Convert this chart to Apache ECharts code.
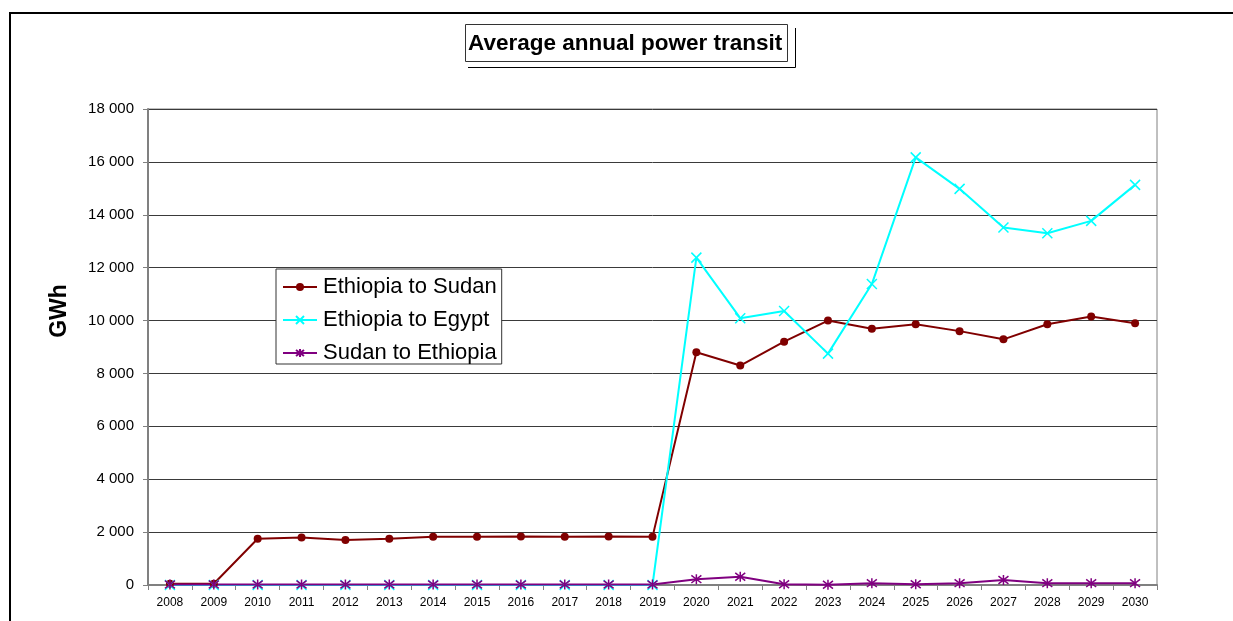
<!DOCTYPE html>
<html>
<head>
<meta charset="utf-8">
<script src="https://cdn.jsdelivr.net/npm/echarts@6/dist/echarts.min.js"></script>
<style>
  html, body { margin: 0; padding: 0; background: #fff; }
  #main { width: 1233px; height: 621px; }
</style>
</head>
<body>
<div id="main"></div>
<script>
var years = ['2008', '2009', '2010', '2011', '2012', '2013', '2014', '2015', '2016', '2017', '2018', '2019',
             '2020', '2021', '2022', '2023', '2024', '2025', '2026', '2027', '2028', '2029', '2030'];

// GWh
var ethiopiaToSudan = [50, 50, 1750, 1800, 1700, 1750, 1820, 1820, 1830, 1820, 1830, 1820,
                       8800, 8300, 9200, 10000, 9690, 9860, 9600, 9290, 9860, 10150, 9900];
var ethiopiaToEgypt = [0, 0, 0, 0, 0, 0, 0, 0, 0, 0, 0, 0,
                       12380, 10090, 10360, 8750, 11380, 16170, 14980, 13520, 13300, 13770, 15130];
var sudanToEthiopia = [20, 20, 20, 20, 20, 20, 20, 20, 20, 20, 20, 20,
                       220, 310, 30, 10, 70, 30, 70, 190, 70, 70, 70];

var chartDom = document.getElementById('main');
var myChart = echarts.init(chartDom);
var option;

var crossPath = 'path://M0,0 L10,10 M10,0 L0,10';
var starPath = 'path://M0,0 L10,10 M10,0 L0,10 M5,-1.5 L5,11.5';
var font = 'Liberation Sans, Arial, sans-serif';

option = {
    animation: false,
    backgroundColor: '#fff',
    textStyle: { fontFamily: font },
    title: {
        text: 'Average annual power transit',
        left: 465,
        top: 24,
        padding: [8, 5, 7, 3],
        borderColor: '#333',
        borderWidth: 1,
        backgroundColor: '#fff',
        textStyle: {
            fontFamily: font,
            fontSize: 22.5,
            fontWeight: 'bold',
            color: '#000'
        }
    },
    graphic: [
        {
            type: 'rect',
            z: -10,
            shape: { x: 10, y: 13, width: 1300, height: 700 },
            style: { fill: null, stroke: '#000', lineWidth: 2 }
        },
        {
            type: 'polyline',
            z: -5,
            shape: { points: [[468, 67.5], [795.5, 67.5], [795.5, 28]] },
            style: { fill: null, stroke: '#000', lineWidth: 1 }
        }
    ],
    legend: {
        orient: 'vertical',
        left: 276,
        top: 269,
        padding: [7, 5, 0, 6],
        itemGap: 11,
        itemWidth: 34,
        itemHeight: 10,
        borderColor: '#333',
        borderWidth: 1,
        backgroundColor: '#fff',
        textStyle: {
            fontFamily: font,
            fontSize: 22,
            color: '#000',
            padding: [0, 0, 0, 1]
        },
        data: ['Ethiopia to Sudan', 'Ethiopia to Egypt', 'Sudan to Ethiopia']
    },
    grid: {
        left: 148,
        right: 76,
        top: 109,
        bottom: 36,
        show: true,
        borderColor: '#808080',
        borderWidth: 1
    },
    xAxis: {
        type: 'category',
        data: years,
        boundaryGap: true,
        axisLine: { lineStyle: { color: '#808080', width: 2 } },
        axisTick: { show: true, length: 5, interval: 0, lineStyle: { color: '#808080' } },
        axisLabel: {
            interval: 0,
            margin: 12,
            fontSize: 12,
            color: '#000',
            fontFamily: font
        }
    },
    yAxis: {
        type: 'value',
        min: 0,
        max: 18000,
        interval: 2000,
        name: 'GWh',
        nameLocation: 'middle',
        nameGap: 77,
        nameTextStyle: {
            fontFamily: font,
            fontSize: 23,
            fontWeight: 'bold',
            color: '#000',
            padding: [0, 0, 0, 72]
        },
        axisLine: { show: true, lineStyle: { color: '#808080', width: 2 } },
        axisTick: { show: true, length: 5, lineStyle: { color: '#808080' } },
        axisLabel: {
            margin: 14,
            fontSize: 15,
            color: '#000',
            fontFamily: font,
            formatter: function (v) {
                return String(v).replace(/\B(?=(\d{3})+(?!\d))/g, ' ');
            }
        },
        splitLine: { lineStyle: { color: '#3a3a3a', width: 1 } }
    },
    series: [
        {
            name: 'Ethiopia to Sudan',
            type: 'line',
            data: ethiopiaToSudan,
            symbol: 'circle',
            symbolSize: 8,
            lineStyle: { color: '#800000', width: 2 },
            itemStyle: { color: '#800000' }
        },
        {
            name: 'Ethiopia to Egypt',
            type: 'line',
            data: ethiopiaToEgypt,
            symbol: crossPath,
            symbolSize: 10,
            lineStyle: { color: '#00ffff', width: 2 },
            itemStyle: { color: '#00ffff', borderColor: '#00ffff', borderWidth: 1.5 }
        },
        {
            name: 'Sudan to Ethiopia',
            type: 'line',
            data: sudanToEthiopia,
            symbol: starPath,
            symbolSize: 10,
            lineStyle: { color: '#800080', width: 2 },
            itemStyle: { color: '#800080', borderColor: '#800080', borderWidth: 1.5 }
        }
    ]
};

option && myChart.setOption(option);
</script>
</body>
</html>
